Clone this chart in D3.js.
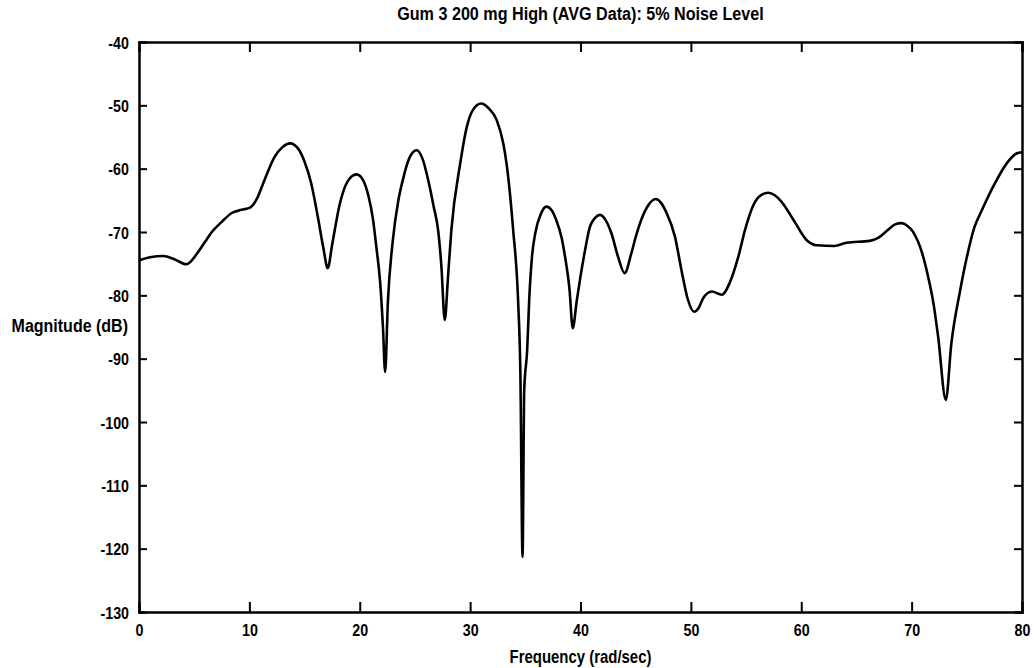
<!DOCTYPE html>
<html>
<head>
<meta charset="utf-8">
<script src="https://cdn.jsdelivr.net/npm/d3@7"></script>
<style>
  body { margin: 0; background: white; }
  text { font-family: "Liberation Sans", Arial, sans-serif; font-weight: bold; fill: black; }
</style>
</head>
<body>
<div id="chart"></div>
<script>
// frequency (rad/sec) and magnitude (dB)
var freq = [0, 1.0, 2.2, 3.2, 4.3, 5.3, 6.0, 6.6, 7.5, 8.4, 9.3, 10.1, 10.7, 11.3, 12.3, 13.0, 13.7, 14.4, 15.0, 15.6,
  16.2, 16.7, 17.1, 17.5, 18.2, 18.9, 19.7, 20.3, 20.8, 21.2, 21.5, 21.85, 22.1, 22.3, 22.55, 23.0, 23.5, 23.9, 24.5, 25.15,
  25.7, 26.2, 26.7, 27.1, 27.4, 27.7, 28.0, 28.3, 29.1, 29.7, 30.3, 31.0, 31.7, 32.4, 33.0, 33.3, 33.9, 34.35, 34.55, 34.75,
  34.9, 35.17, 35.35, 35.6, 35.9, 36.4, 36.9, 37.4, 37.8, 38.3, 38.6, 39.0, 39.3, 39.65, 40.0, 40.4, 40.85, 41.3, 41.76, 42.3,
  42.8, 43.4, 44.0, 44.6, 45.0, 45.5, 46.1, 46.8, 47.3, 47.8, 48.55, 49.2, 49.7, 50.3, 50.7, 51.1, 51.9, 52.8, 53.5, 54.3,
  54.9, 55.6, 56.2, 57.0, 57.6, 58.2, 59.3, 60.5, 61.4, 63.0, 64.1, 66.2, 67.0, 67.9, 68.5, 69.1, 69.6, 70.1, 71.0, 71.5,
  72.0, 72.4, 73.1, 73.6, 74.4, 75.0, 75.7, 76.3, 76.8, 77.7, 78.6, 79.5, 80.0];
var mag = [-74.5, -74.0, -73.8, -74.3, -75.1, -73.3, -71.5, -70.0, -68.4, -67.0, -66.5, -66.1, -64.7, -62.1, -58.1, -56.6, -56.0, -56.8, -58.9, -62.3,
  -67.6, -72.5, -75.7, -72.0, -65.5, -62.0, -60.9, -61.8, -64.4, -68.0, -72.3, -78.0, -85.0, -92.1, -81.0, -71.3, -65.0, -61.8, -58.3, -57.1,
  -58.5, -61.8, -66.0, -69.7, -75.5, -83.9, -77.0, -69.7, -59.2, -53.4, -50.6, -49.7, -50.5, -52.3, -56.0, -59.2, -69.7, -81.0, -92.0, -121.3,
  -95.0, -88.6, -80.8, -74.0, -70.2, -67.2, -66.0, -66.6, -68.1, -71.0, -73.9, -79.0, -85.2, -81.0, -77.0, -73.0, -69.2, -67.8, -67.3, -68.2,
  -70.2, -73.9, -76.5, -73.4, -70.8, -68.1, -65.9, -64.8, -65.4, -67.0, -70.7, -76.5, -80.5, -82.6, -82.0, -80.5, -79.4, -79.9, -78.1, -73.9,
  -69.7, -66.0, -64.4, -63.8, -64.2, -65.2, -68.1, -71.3, -72.1, -72.2, -71.7, -71.4, -70.9, -69.6, -68.8, -68.6, -69.0, -69.9, -73.6, -77.1,
  -81.5, -86.5, -96.5, -87.6, -79.2, -74.0, -69.2, -66.8, -64.9, -61.8, -59.2, -57.6, -57.4];

var xTicks = [0, 10, 20, 30, 40, 50, 60, 70, 80];
var yTicks = [-40, -50, -60, -70, -80, -90, -100, -110, -120, -130];

var title = "Gum 3 200 mg High (AVG Data): 5% Noise Level";
var xLabel = "Frequency (rad/sec)";
var yLabel = "Magnitude (dB)";

var W = 1034, H = 668;
var margin = {top: 42, right: 12, bottom: 56, left: 139};
var w = W - margin.left - margin.right,
    h = H - margin.top - margin.bottom;

var svg = d3.select("#chart")
  .append("svg")
  .attr("width", W)
  .attr("height", H);

var g = svg.append("g")
  .attr("transform", "translate(" + margin.left + "," + margin.top + ")");

var x = d3.scaleLinear().domain([0, 80]).range([0, w]);
var y = d3.scaleLinear().domain([-130, -40]).range([h, 0]);

// squeeze text sideways, the original font is a narrow one
function narrow(sel, sx) {
  sel.each(function() {
    var t = d3.select(this);
    var x0 = +t.attr("x") || 0;
    t.attr("x", x0 / sx).attr("transform", "scale(" + sx + ",1)");
  });
}

// axes, ticks pointing inward like matlab
var xBottom = g.append("g").attr("transform", "translate(0," + h + ")")
  .call(d3.axisBottom(x).tickValues(xTicks).tickSize(-10).tickPadding(14).tickFormat(d3.format("d")));
var xTop = g.append("g")
  .call(d3.axisTop(x).tickValues(xTicks).tickSize(-10).tickFormat(""));
var yLeft = g.append("g")
  .call(d3.axisLeft(y).tickValues(yTicks).tickSize(-8).tickPadding(10).tickFormat(function(d) { return d3.format("d")(d).replace("−", "-"); }));
var yRight = g.append("g").attr("transform", "translate(" + w + ",0)")
  .call(d3.axisRight(y).tickValues(yTicks).tickSize(-8).tickFormat(""));

[xBottom, xTop, yLeft, yRight].forEach(function(a) {
  a.select(".domain").attr("stroke", "black").attr("stroke-width", 2.5);
  a.selectAll(".tick line").attr("stroke", "black").attr("stroke-width", 2);
  a.selectAll(".tick text").attr("font-size", 17).attr("fill", "black")
    .style("font-family", "'Liberation Sans', Arial, sans-serif")
    .style("font-weight", "bold");
});
// drop the extra end ticks that sit on the frame
xTop.selectAll(".tick").filter(function(d) { return d == 0 || d == 80; }).select("line").remove();
xBottom.selectAll(".tick").filter(function(d) { return d == 0 || d == 80; }).select("line").remove();
yLeft.selectAll(".tick").filter(function(d) { return d == -40 || d == -130; }).select("line").remove();
yRight.selectAll(".tick").filter(function(d) { return d == -40 || d == -130; }).select("line").remove();
yLeft.selectAll(".tick text").attr("dy", "0.36em");
xBottom.selectAll(".tick text").attr("dy", "0.6em");
narrow(yLeft.selectAll(".tick text"), 0.84);
narrow(xBottom.selectAll(".tick text"), 0.84);

var pts = freq.map(function(f, i) { return {f: f, m: mag[i]}; });

var line = d3.line()
  .x(function(d) { return x(d.f); })
  .y(function(d) { return y(d.m); })
  .curve(d3.curveMonotoneX);

g.append("path")
  .datum(pts)
  .attr("fill", "none")
  .attr("stroke", "black")
  .attr("stroke-width", 2.6)
  .attr("stroke-linejoin", "round")
  .attr("d", line);

var tt = svg.append("text")
  .attr("x", margin.left + w / 2)
  .attr("y", 20)
  .attr("text-anchor", "middle")
  .attr("font-size", 19)
  .text(title);
narrow(tt, 0.85);

var xl = svg.append("text")
  .attr("x", margin.left + w / 2)
  .attr("y", 663)
  .attr("text-anchor", "middle")
  .attr("font-size", 18)
  .text(xLabel);
narrow(xl, 0.83);

var yl = svg.append("text")
  .attr("x", 128)
  .attr("y", 332)
  .attr("text-anchor", "end")
  .attr("font-size", 18)
  .text(yLabel);
narrow(yl, 0.89);
</script>
</body>
</html>
